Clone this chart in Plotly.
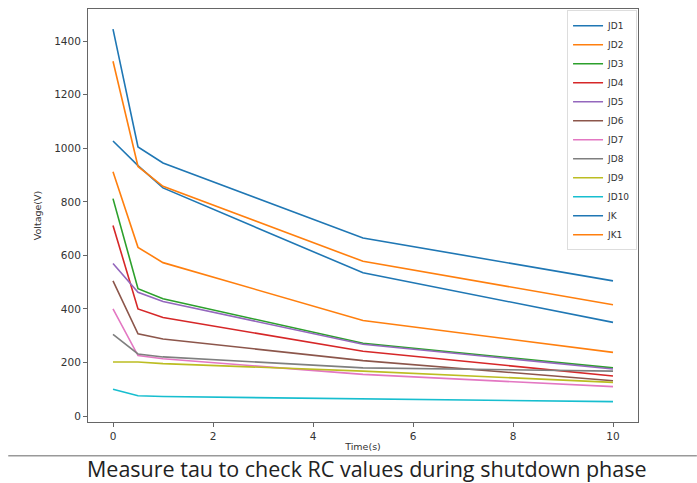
import plotly.graph_objects as go

# Sample times (s)
time_s = [0, 0.5, 1, 5, 10]

# Measured voltages (V) per channel
series_names = ["JD1", "JD2", "JD3", "JD4", "JD5", "JD6",
                "JD7", "JD8", "JD9", "JD10", "JK", "JK1"]
jd1 = [1027, 935, 852, 535, 350]
jd2 = [912, 630, 573, 357, 238]
jd3 = [812, 476, 438, 272, 180]
jd4 = [712, 400, 368, 242, 150]
jd5 = [570, 462, 428, 268, 176]
jd6 = [505, 307, 288, 207, 132]
jd7 = [400, 226, 214, 156, 110]
jd8 = [305, 232, 221, 180, 168]
jd9 = [202, 202, 196, 168, 126]
jd10 = [100, 76, 73, 64, 54]
jk = [1445, 1005, 945, 665, 505]
jk1 = [1325, 932, 858, 578, 416]

series_values = [jd1, jd2, jd3, jd4, jd5, jd6, jd7, jd8, jd9, jd10, jk, jk1]

palette = ["#1f77b4", "#ff7f0e", "#2ca02c", "#d62728", "#9467bd",
           "#8c564b", "#e377c2", "#7f7f7f", "#bcbd22", "#17becf"]

x_ticks = [0, 2, 4, 6, 8, 10]
y_ticks = [0, 200, 400, 600, 800, 1000, 1200, 1400]

caption = "Measure tau to check RC values during shutdown phase"

fig = go.Figure()
for i, (name, vals) in enumerate(zip(series_names, series_values)):
    fig.add_trace(go.Scatter(
        x=time_s, y=vals, mode="lines", name=name,
        line=dict(color=palette[i % len(palette)], width=1.6),
    ))

axis_common = dict(
    showgrid=False, zeroline=False, showline=True, mirror=True,
    linecolor="#666", linewidth=1,
    ticks="outside", ticklen=4, tickwidth=1, tickcolor="#666",
    tickfont=dict(family="DejaVu Sans", size=10.5, color="#333"),
)

fig.update_layout(
    width=697, height=483,
    margin=dict(l=88, r=59, t=9, b=61),
    paper_bgcolor="white", plot_bgcolor="white",
    font=dict(family="DejaVu Sans", color="#333"),
    xaxis=dict(range=[-0.5, 10.5], tickvals=x_ticks,
               title=dict(text="Time(s)", font=dict(size=9.5, color="#333"), standoff=2),
               **axis_common),
    yaxis=dict(range=[-22, 1520], tickvals=y_ticks,
               title=dict(text="Voltage(V)", font=dict(size=9.5, color="#333"), standoff=10),
               **axis_common),
    legend=dict(
        x=0.871, y=0.997, xanchor="left", yanchor="top",
        bgcolor="rgba(255,255,255,0.9)", bordercolor="#ddd", borderwidth=1,
        font=dict(family="DejaVu Sans", size=9, color="#333"),
        tracegroupgap=0, itemwidth=30,
    ),
    showlegend=True,
)

# Separator rule and caption below the chart
fig.add_shape(type="line", xref="paper", yref="paper",
              x0=-0.145, x1=1.107, y0=-0.082, y1=-0.082,
              line=dict(color="#999", width=1.5))
fig.add_annotation(text=caption, xref="paper", yref="paper",
                   x=0.507, y=-0.1138, xanchor="center", yanchor="middle",
                   showarrow=False,
                   font=dict(family="Open Sans", size=21.5, color="#222"))

fig.write_html("out.html")
